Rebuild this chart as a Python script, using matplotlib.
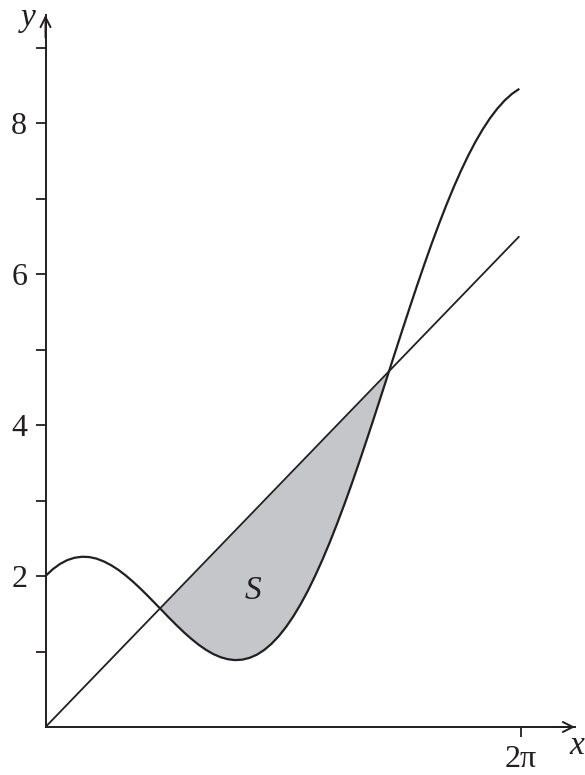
import matplotlib
matplotlib.use("Agg")
import matplotlib.pyplot as plt
import numpy as np

# ---- data ----
curve_x = [0.0, 0.1, 0.2, 0.3, 0.4, 0.5, 0.6, 0.7, 0.8, 0.9, 1.0, 1.1, 1.2, 1.3,
           1.4, 1.5, 1.6, 1.7, 1.8, 1.9, 2.0, 2.1, 2.2, 2.3, 2.4, 2.5, 2.6, 2.7,
           2.8, 2.9, 3.0, 3.1, 3.2, 3.3, 3.4, 3.5, 3.6, 3.7, 3.8, 3.9, 4.0, 4.1,
           4.2, 4.3, 4.4, 4.5, 4.6, 4.7, 4.8, 4.9, 5.0, 5.1, 5.2, 5.3, 5.4, 5.5,
           5.6, 5.7, 5.8, 5.9, 6.0, 6.1, 6.2, 6.3, 6.4, 6.5]
curve_y = [2.000, 2.090, 2.160, 2.211, 2.242, 2.255, 2.251, 2.230, 2.193, 2.143,
           2.081, 2.007, 1.925, 1.835, 1.740, 1.641, 1.542, 1.442, 1.346, 1.253,
           1.168, 1.090, 1.023, 0.967, 0.925, 0.898, 0.886, 0.892, 0.916, 0.958,
           1.020, 1.102, 1.203, 1.325, 1.466, 1.627, 1.806, 2.004, 2.218, 2.448,
           2.693, 2.950, 3.219, 3.498, 3.785, 4.078, 4.376, 4.675, 4.975, 5.273,
           5.567, 5.856, 6.137, 6.409, 6.669, 6.917, 7.151, 7.369, 7.571, 7.755,
           7.920, 8.067, 8.193, 8.300, 8.387, 8.453]
line_x = [0.0, 6.5]
line_y = [0.0, 6.5]
ytick_vals = [1, 2, 3, 4, 5, 6, 7, 8, 9]
ytick_labels = ["", "2", "", "4", "", "6", "", "8", ""]
xtick_vals = [6.52]
xtick_labels = ["2\u03c0"]
region_label = "S"

# ---- figure ----
W, H = 585, 775
fig = plt.figure(figsize=(W / 100, H / 100), dpi=100)
ax = fig.add_axes([0, 0, 1, 1])
ax.patch.set_alpha(0)

x0_px, y0_px = 45.5, 727.0          # origin in pixels (from top-left)
sx, sy = 72.9, 75.5                 # pixels per unit
ax.set_xlim(-x0_px / sx, (W - x0_px) / sx)
ax.set_ylim((y0_px - H) / sy, y0_px / sy)

ink = "#231f20"
serif = ["Liberation Serif", "DejaVu Serif"]

cx = np.array(curve_x)
cy = np.array(curve_y)
ly = np.interp(cx, line_x, line_y)
ax.fill_between(cx, cy, ly, where=ly >= cy, interpolate=True,
                color="#c5c6ca", linewidth=0, zorder=1)
ax.plot(curve_x, curve_y, color=ink, lw=1.6, zorder=3,
        solid_capstyle="butt", solid_joinstyle="round")
ax.plot(line_x, line_y, color=ink, lw=1.3, zorder=3, solid_capstyle="butt")

# axes as spines through the origin
for s in ["top", "right"]:
    ax.spines[s].set_visible(False)
ax.spines["left"].set_position(("data", 0))
ax.spines["bottom"].set_position(("data", 0))
y_top = (y0_px - 15) / sy
x_right = (575 - x0_px) / sx
ax.spines["left"].set_bounds(0, y_top)
ax.spines["bottom"].set_bounds(0, x_right)
for s in ["left", "bottom"]:
    ax.spines[s].set_color(ink)
    ax.spines[s].set_linewidth(1.4)
    ax.spines[s].set_zorder(4)

ax.set_yticks(ytick_vals)
ax.set_yticklabels(ytick_labels, family=serif, fontsize=23)
ax.set_xticks(xtick_vals)
ax.set_xticklabels(xtick_labels, family=serif, fontsize=23)
ax.tick_params(axis="y", direction="out", length=7.2, width=1.3, color=ink,
               pad=6, labelcolor=ink)
ax.tick_params(axis="x", direction="out", length=7.0, width=1.3, color=ink,
               pad=6, labelcolor=ink)

# arrow heads
ax.annotate("", xy=(0, y_top), xytext=(0, y_top - 0.3),
            arrowprops=dict(arrowstyle="->", color=ink, lw=1.4,
                            mutation_scale=18, shrinkA=0, shrinkB=0))
ax.annotate("", xy=(x_right, 0), xytext=(x_right - 0.3, 0),
            arrowprops=dict(arrowstyle="->", color=ink, lw=1.4,
                            mutation_scale=18, shrinkA=0, shrinkB=0))

# axis labels
ax.text((28 - x0_px) / sx, (y0_px - 18) / sy, "y", family=serif, style="italic",
        fontsize=24, ha="center", va="center", color=ink)
ax.text((577 - x0_px) / sx, (y0_px - 746) / sy, "x", family=serif, style="italic",
        fontsize=24, ha="center", va="center", color=ink)
ax.text(2.85, 1.81, region_label, family=serif, style="italic",
        fontsize=24, ha="center", va="center", color=ink, zorder=5)

fig.savefig("out.png", dpi=100)
